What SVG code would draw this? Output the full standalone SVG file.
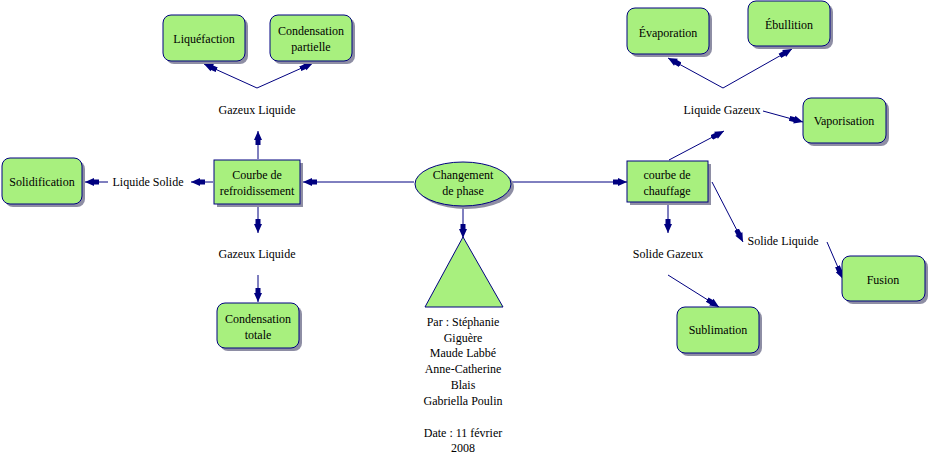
<svg xmlns="http://www.w3.org/2000/svg" width="929" height="456" viewBox="0 0 929 456">
<defs>
<style>
.n{fill:#a8f07e;stroke:#000080;stroke-width:1}
.sh{fill:#8e8ea4}
.t{font-family:"Liberation Serif","Times New Roman",serif;font-size:12px;fill:#000;text-anchor:middle}
.c{stroke:#000080;stroke-width:1;fill:none;marker-end:url(#ah)}
</style>
<marker id="ah" markerUnits="userSpaceOnUse" markerWidth="14" markerHeight="9" refX="14" refY="4.5" orient="auto" viewBox="0 0 14 9">
<path d="M0,2 L5,2 L5,0.5 L14,4.5 L5,8.5 L5,7 L0,7 z" fill="#000080"/>
</marker>
</defs>
<rect width="929" height="456" fill="#fff"/>
<g id="connectors">
<line class="c" x1="257" y1="88" x2="204" y2="64"/>
<line class="c" x1="257" y1="88" x2="313" y2="63"/>
<line class="c" x1="258" y1="159" x2="258" y2="131"/>
<line class="c" x1="213" y1="182" x2="191" y2="182"/>
<line class="c" x1="108" y1="182" x2="85" y2="182"/>
<line class="c" x1="414" y1="182" x2="303" y2="182"/>
<line class="c" x1="258" y1="205" x2="258" y2="233"/>
<line class="c" x1="258" y1="275" x2="258" y2="302"/>
<line class="c" x1="463" y1="206" x2="463" y2="238"/>
<line class="c" x1="512" y1="182" x2="627" y2="182"/>
<line class="c" x1="669" y1="160" x2="724" y2="131"/>
<line class="c" x1="723" y1="88" x2="668" y2="58"/>
<line class="c" x1="723" y1="88" x2="792" y2="49"/>
<line class="c" x1="763" y1="111" x2="803" y2="122"/>
<line class="c" x1="668" y1="203" x2="668" y2="233"/>
<line class="c" x1="668" y1="275" x2="719" y2="307"/>
<line class="c" x1="712" y1="182" x2="743" y2="242"/>
<line class="c" x1="827" y1="242" x2="843" y2="279"/>
</g>
<g id="liquefaction">
<rect class="sh" x="166" y="18" width="82" height="46" rx="8"/>
<rect class="n" x="163" y="15" width="82" height="46" rx="8"/>
<text class="t" x="204" y="43">Liquéfaction</text>
</g>
<g id="condensation-partielle">
<rect class="sh" x="273" y="18" width="82" height="46" rx="8"/>
<rect class="n" x="270" y="15" width="82" height="46" rx="8"/>
<text class="t" x="311" y="35">Condensation</text>
<text class="t" x="311" y="51">partielle</text>
</g>
<g id="label-gazeux-liquide-haut"><text class="t" x="257" y="114">Gazeux Liquide</text></g>
<g id="courbe-refroidissement">
<rect class="sh" x="217" y="163" width="86" height="44"/>
<rect class="n" x="214" y="160" width="86" height="44"/>
<text class="t" x="257" y="179">Courbe de</text>
<text class="t" x="257" y="195">refroidissement</text>
</g>
<g id="solidification">
<rect class="sh" x="5" y="161" width="80" height="46" rx="8"/>
<rect class="n" x="2" y="158" width="80" height="46" rx="8"/>
<text class="t" x="42" y="186">Solidification</text>
</g>
<g id="label-liquide-solide"><text class="t" x="148" y="186">Liquide Solide</text></g>
<g id="label-gazeux-liquide-bas"><text class="t" x="257" y="258">Gazeux Liquide</text></g>
<g id="condensation-totale">
<rect class="sh" x="220" y="306" width="82" height="45" rx="8"/>
<rect class="n" x="217" y="303" width="82" height="45" rx="8"/>
<text class="t" x="258" y="323">Condensation</text>
<text class="t" x="258" y="339">totale</text>
</g>
<g id="changement-de-phase">
<ellipse class="sh" cx="466" cy="187" rx="48" ry="22"/>
<ellipse class="n" cx="463" cy="184" rx="48" ry="22"/>
<text class="t" x="463" y="179">Changement</text>
<text class="t" x="463" y="195">de phase</text>
</g>
<g id="auteurs">
<polygon class="n" points="463,237 425,307 503,307"/>
<text class="t" x="463" y="326">Par : Stéphanie</text>
<text class="t" x="463" y="342">Giguère</text>
<text class="t" x="463" y="357">Maude Labbé</text>
<text class="t" x="463" y="373">Anne-Catherine</text>
<text class="t" x="463" y="389">Blais</text>
<text class="t" x="463" y="405">Gabriella Poulin</text>
<text class="t" x="463" y="437">Date : 11 février</text>
<text class="t" x="463" y="452">2008</text>
</g>
<g id="courbe-chauffage">
<rect class="sh" x="630" y="164" width="81" height="41"/>
<rect class="n" x="627" y="161" width="81" height="41"/>
<text class="t" x="667" y="179">courbe de</text>
<text class="t" x="667" y="195">chauffage</text>
</g>
<g id="label-liquide-gazeux"><text class="t" x="722" y="114">Liquide Gazeux</text></g>
<g id="evaporation">
<rect class="sh" x="630" y="11" width="82" height="46" rx="8"/>
<rect class="n" x="627" y="8" width="82" height="46" rx="8"/>
<text class="t" x="668" y="37">Évaporation</text>
</g>
<g id="ebullition">
<rect class="sh" x="751" y="4" width="82" height="45" rx="8"/>
<rect class="n" x="748" y="1" width="82" height="45" rx="8"/>
<text class="t" x="789" y="29">Ébullition</text>
</g>
<g id="vaporisation">
<rect class="sh" x="806" y="101" width="83" height="45" rx="8"/>
<rect class="n" x="803" y="98" width="83" height="45" rx="8"/>
<text class="t" x="844" y="125">Vaporisation</text>
</g>
<g id="label-solide-gazeux"><text class="t" x="668" y="258">Solide Gazeux</text></g>
<g id="sublimation">
<rect class="sh" x="680" y="310" width="82" height="46" rx="8"/>
<rect class="n" x="677" y="307" width="82" height="46" rx="8"/>
<text class="t" x="718" y="334">Sublimation</text>
</g>
<g id="label-solide-liquide"><text class="t" x="783" y="245">Solide Liquide</text></g>
<g id="fusion">
<rect class="sh" x="845" y="259" width="83" height="45" rx="8"/>
<rect class="n" x="842" y="256" width="83" height="45" rx="8"/>
<text class="t" x="883" y="284">Fusion</text>
</g>
</svg>
